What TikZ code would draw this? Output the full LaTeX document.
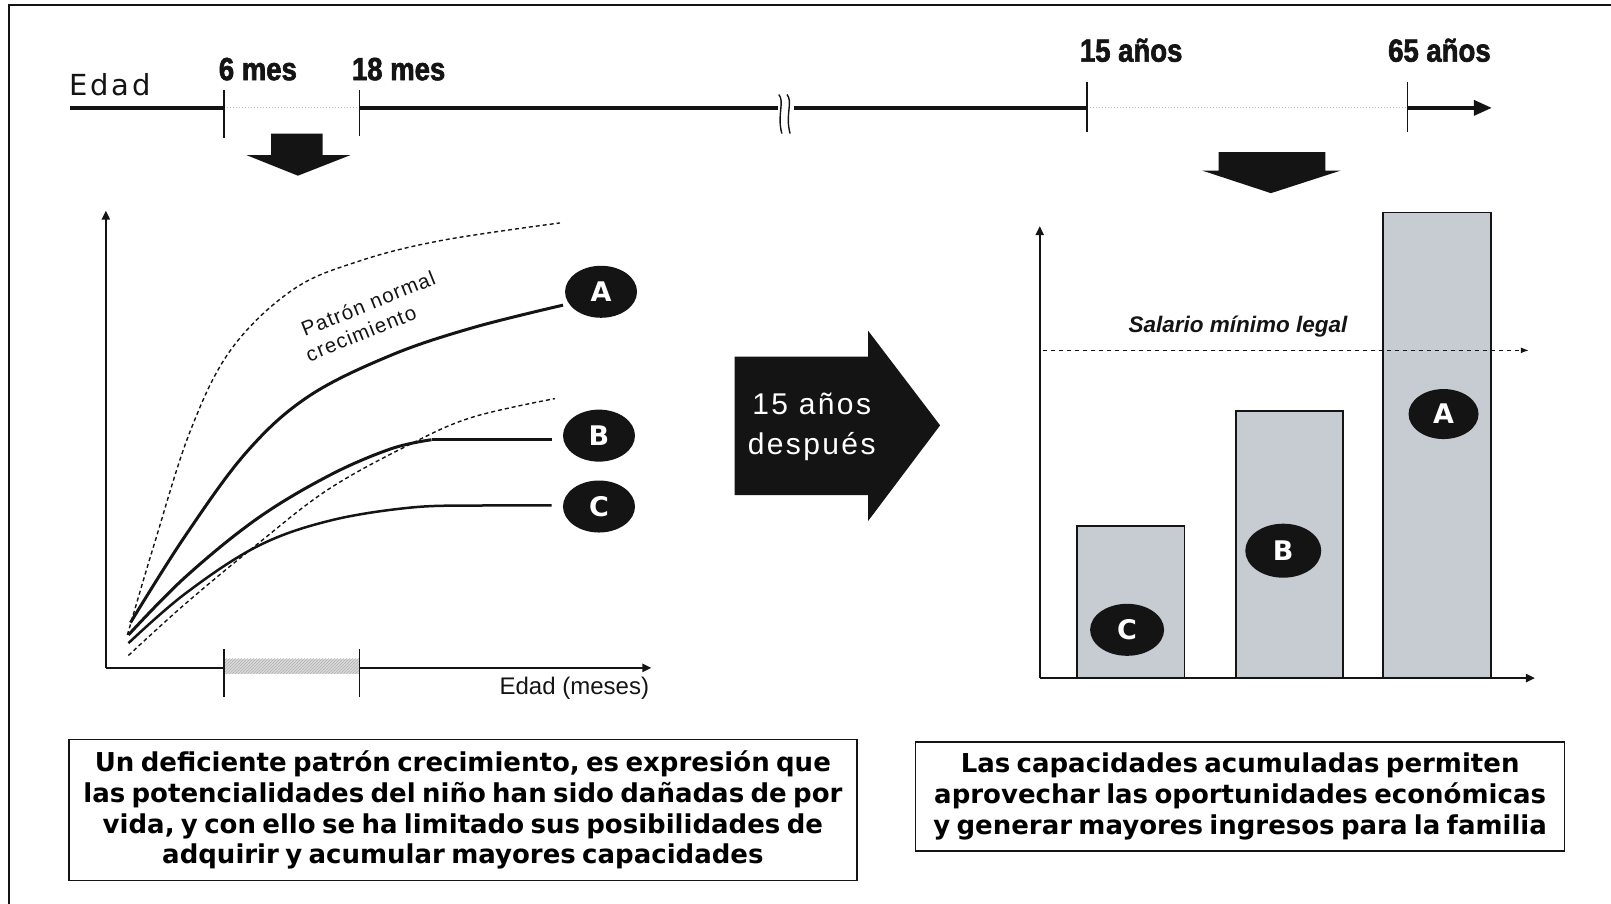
\documentclass[tikz,border=0pt]{standalone}
\usepackage{fontspec}
\setmainfont{Liberation Sans}
\newfontfamily\impactish{Liberation Sans}[FakeStretch=0.86,BoldFeatures={FakeBold=2}]
\newfontfamily\wideface{DejaVu Sans}[WordSpace=0.7]
\newfontfamily\spacedface{DejaVu Sans}[LetterSpace=10]
\newfontfamily\arrowface{Liberation Sans}[LetterSpace=8]
\newfontfamily\patronface{Liberation Sans}[LetterSpace=6]
\usetikzlibrary{arrows.meta,shapes.geometric,patterns}
\definecolor{barfill}{RGB}{198,204,209}
\definecolor{ink}{RGB}{20,20,20}
\tikzset{
  tline/.style={line width=3.6pt, draw=ink},
  tick/.style={line width=1.6pt, draw=ink},
  tlabel/.style={font=\impactish\bfseries\fontsize{32}{32}\selectfont, text=ink, inner sep=0pt},
  axisline/.style={line width=2.2pt, draw=ink, -{Triangle[length=9pt,width=8pt]}},
  dashcurve/.style={line width=1.4pt, draw=ink, dash pattern=on 4pt off 3pt},
  solidcurve/.style={line width=3pt, draw=ink},
  lettercirc/.style={ellipse, fill=ink, text=white, inner sep=0pt,
     font=\wideface\bfseries\fontsize{27}{27}\selectfont, minimum width=72pt, minimum height=52pt},
  barbox/.style={draw=ink, line width=1.6pt, fill=barfill},
  textbox/.style={draw=ink, line width=1.6pt, align=center, inner sep=0pt,
     font=\wideface\bfseries\fontsize{26}{30.8}\selectfont},
  downarrow/.style={fill=ink},
  patronlabel/.style={rotate=22, anchor=base, font=\patronface\fontsize{20.5}{20.5}\selectfont, text=ink, inner sep=0pt},
}
\begin{document}
\begin{tikzpicture}[x=1.0274pt,y=-1.0274pt]
\useasboundingbox (0,0) rectangle (1568,879);
\clip (0,0) rectangle (1568,879);
% outer frame
\draw[line width=1.6pt, draw=ink] (9,900) -- (9,5) -- (1600,5);

% ---------- timeline ----------
\coordinate (t0) at (68,105);
\coordinate (t6) at (218,105);
\coordinate (t18) at (350,105);
\coordinate (bk1) at (757,105);
\coordinate (bk2) at (773,105);
\coordinate (t15) at (1058,105);
\coordinate (t65) at (1370,105);
\coordinate (tend) at (1452,105);
\draw[tline] (t0) -- (t6);
\draw[tline] (t18) -- (bk1);
\draw[tline] (bk2) -- (t15);
\draw[tline, -{Triangle[length=18pt,width=15pt]}] (t65) -- (tend);
\draw[gray!55, line width=1pt, dotted] (t6) -- (t18);
\draw[gray!55, line width=1pt, dotted] (t15) -- (t65);
\draw[tick] (218,88) -- (218,134);
\draw[tick] (350,88) -- (350,132);
\draw[tick] (1058,80) -- (1058,128);
\draw[tick] (1370,80) -- (1370,128);
% break marks
\draw[line width=1.4pt, draw=ink] (758,92) .. controls (764,99) and (756,112) .. (761,130);
\draw[line width=1.4pt, draw=ink] (766,92) .. controls (772,99) and (764,112) .. (769,130);

\node[anchor=base west, font=\spacedface\fontsize{29}{29}\selectfont, text=ink, inner sep=0pt] (edad) at (67,93) {Edad};
\node[tlabel, anchor=base] (l6) at (251,78) {6 mes};
\node[tlabel, anchor=base] (l18) at (388,78) {18 mes};
\node[tlabel, anchor=base] (l15) at (1101,60) {15 años};
\node[tlabel, anchor=base] (l65) at (1401,60) {65 años};

% down arrows
\fill[downarrow] (264,130) -- (314,130) -- (314,151) -- (341,151) -- (290,171) -- (240,151) -- (264,151) -- cycle;
\fill[downarrow] (1186,148) -- (1290,148) -- (1290,166) -- (1305,166) -- (1237,188) -- (1170,166) -- (1186,166) -- cycle;

% ---------- left chart ----------
\coordinate (o1) at (103,650);
\draw[axisline] (o1) -- (103,205);
\draw[axisline] (o1) -- (634,650);
\fill[gray!30] (218,641) rectangle (350,656);
\fill[pattern=north east lines, pattern color=gray!70] (218,641) rectangle (350,656);
\draw[tick] (218,632) -- (218,678);
\draw[tick] (350,632) -- (350,678);
\node[font=\fontsize{24}{24}\selectfont, text=ink, inner sep=0pt] (xl) at (559,670) {Edad (meses)};

% curves
\draw[dashcurve] plot[smooth, tension=0.6] coordinates {(124,618) (150,530) (185,420) (225,340) (285,282) (350,254) (430,234) (545,217)};
\draw[solidcurve] plot[smooth, tension=0.6] coordinates {(127,606) (180,522) (240,440) (300,386) (380,346) (460,319) (548,297)};
\draw[dashcurve] plot[smooth, tension=0.6] coordinates {(125,638) (180,588) (250,530) (320,476) (400,432) (460,406) (540,388)};
\draw[solidcurve] plot[smooth, tension=0.6] coordinates {(125,618) (180,562) (250,505) (320,463) (380,437) (420,428)};
\draw[solidcurve] (420,428) -- (537,428);
\draw[solidcurve, line width=2.5pt] plot[smooth, tension=0.6] coordinates {(125,626) (180,578) (250,532) (320,507) (400,494) (470,492) (537,492)};

\node[patronlabel] (patron1) at (361,302) {Patrón normal};
\node[patronlabel] (patron2) at (354,331) {crecimiento};

\node[lettercirc] (ca) at (585,284) {A};
\node[lettercirc] (cb) at (583,424) {B};
\node[lettercirc] (cc) at (583,493) {C};

% ---------- big arrow ----------
\fill[ink] (715,347) -- (845,347) -- (845,322) -- (915,414) -- (845,507) -- (845,482) -- (715,482) -- cycle;
\node[align=center, text=white, font=\arrowface\fontsize{30}{40}\selectfont, inner sep=0pt] (lat) at (790,415) {15 años\\después};

% ---------- right chart ----------
\coordinate (o2) at (1012,660);
\draw[barbox] (1048,660) rectangle (1153,512);
\draw[barbox] (1203,660) rectangle (1307,400);
\draw[barbox] (1346,660) rectangle (1451,207);
\draw[axisline] (o2) -- (1012,220);
\draw[axisline] (o2) -- (1494,660);
\draw[line width=1.3pt, draw=ink, dash pattern=on 4pt off 4pt, -{Latex[length=8pt,width=6pt]}] (1015,341) -- (1488,341);
\node[font=\bfseries\itshape\fontsize{22.5}{22.5}\selectfont, text=ink, inner sep=0pt] (sal) at (1205,318) {Salario mínimo legal};
\node[lettercirc, minimum width=70pt, minimum height=50pt] (ra) at (1405,403) {A};
\node[lettercirc, minimum width=76pt, minimum height=54pt] (rb) at (1249,536) {B};
\node[lettercirc, minimum width=74pt, minimum height=52pt] (rc) at (1097,613) {C};

% ---------- text boxes ----------
\node[textbox, minimum width=788pt, minimum height=141pt] (boxl) at (450.5,788.5)
  {Un deficiente patrón crecimiento, es expresión que\\las potencialidades del niño han sido dañadas de por\\vida, y con ello se ha limitado sus posibilidades de\\adquirir y acumular mayores capacidades};
\node[textbox, minimum width=649pt, minimum height=109pt] (boxr) at (1207,775)
  {Las capacidades acumuladas permiten\\aprovechar las oportunidades económicas\\y generar mayores ingresos para la familia};
\end{tikzpicture}
\end{document}
